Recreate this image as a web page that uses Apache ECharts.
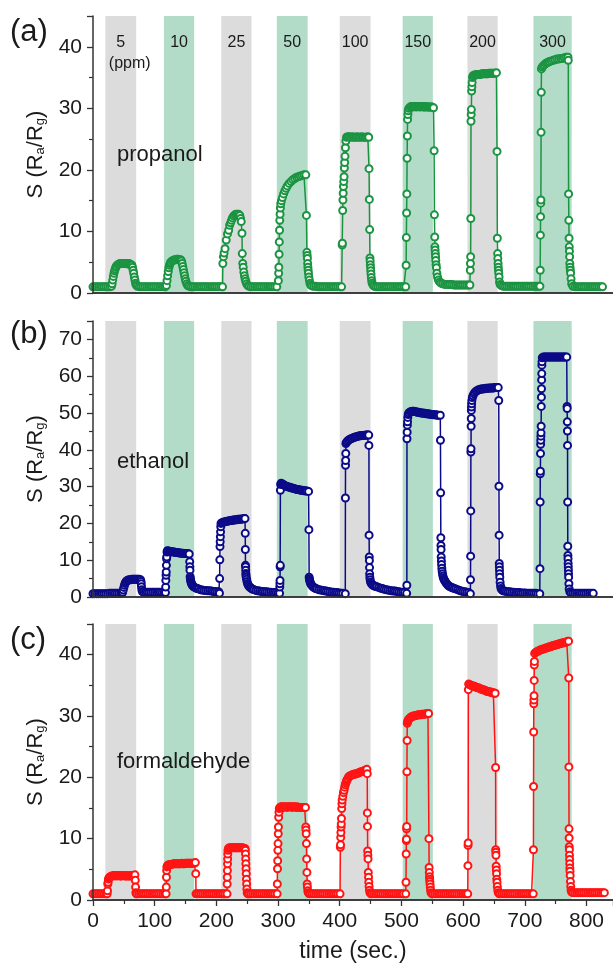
<!DOCTYPE html>
<html><head><meta charset="utf-8">
<script src="https://cdn.jsdelivr.net/npm/echarts@6/dist/echarts.min.js"></script>
<style>html,body{margin:0;padding:0;background:#fff}#c{width:613px;height:965px}</style>
</head><body><div id="c"></div>
<script>
// exposure windows (sec.)
const bands = [[20,70],[115,164],[208,257],[298,348],[400,450],[502,551],[607,656],[714,776]];
const concLabels = ['5','10','25','50','100','150','200','300'];
const gasNames = ['propanol','ethanol','formaldehyde'];
const panelTags = ['(a)','(b)','(c)'];
const yMaxes = [45,75,45];
const xTickLabels = ['0','100','200','300','400','500','600','700','800'];

const propanol = [
[0,1.0],[3,1.0],[6,1.0],[9,1.0],[12,1.0],[15,1.0],[18,1.0],[21,1.0],[24,1.0],[27,1.0],[30,1.1],
[31,1.5],[32,2.1],[33,2.7],[34,3.2],[35,3.6],[36,3.9],[37,4.2],[38,4.4],[40,4.6],[42,4.7],
[44,4.8],[46,4.8],[48,4.8],[50,4.8],[52,4.8],[54,4.8],[56,4.7],[58,4.8],[60,4.7],[62,4.6],
[63,4.5],[64,4.2],[65,3.7],[66,3.2],[67,2.6],[68,2.1],[69,1.6],[70,1.3],[72,1.1],
[75,1.0],[78,1.0],[81,1.0],[84,1.0],[87,1.0],[90,1.0],[93,1.0],[96,1.0],[99,1.0],[102,1.0],[105,1.0],[108,1.0],[111,1.0],[114,1.0],[117,1.0],
[119,1.2],[120,2.0],[121,2.8],[122,3.5],[123,4.1],[124,4.5],[125,4.8],[126,5.0],[128,5.2],[130,5.3],
[132,5.4],[134,5.4],[136,5.5],[138,5.5],[140,5.4],[142,5.4],
[143.5,5.2],[144.5,4.8],[145.5,4.3],[146.5,3.8],[147.5,3.3],[148.5,2.8],[149.5,2.3],[150.5,1.9],[152,1.5],[153.5,1.2],[156,1.1],
[159,1.0],[162,1.0],[165,1.0],[168,1.0],[171,1.0],[174,1.0],[177,1.0],[180,1.0],[183,1.0],[186,1.0],[189,1.0],[192,1.0],[195,1.0],[198,1.0],[201,1.0],[204,1.0],[207,1.0],
[210,1.0],[210.5,4.8],[211.5,5.9],[212.5,6.5],[214,7.2],[216,8.6],[218,9.6],[220,10.2],[221.5,11.0],[223,11.4],[224.5,11.8],[226,12.2],[228,12.5],[230,12.7],[232,12.8],[234,12.8],[236,12.8],[238,12.6],
[239.2,12.1],[240.3,11.6],[241.5,9.7],[242,6.4],[242.8,4.8],[243.5,4.2],[244.5,3.4],[245.5,2.8],[246.5,2.3],[247.5,1.9],[249,1.5],[251,1.2],[253,1.1],
[256,1.0],[259,1.0],[262,1.0],[265,1.0],[268,1.0],[271,1.0],[274,1.0],[277,1.0],[280,1.0],[283,1.0],[286,1.0],[289,1.0],[292,1.0],[295,1.0],[298,1.0],
[300.5,2.0],[301,3.2],[301.3,4.2],[301.7,6.3],[302,8.3],[302.4,10.2],[302.8,11.8],[303.3,12.8],[303.8,13.8],[304.4,14.5],[305.5,15.0],[307,15.5],[309,16.1],[311,16.6],[313,17.0],[315,17.4],[318,17.8],[321,18.1],[324,18.4],[327,18.6],[330,18.8],[333,18.9],[336,19.0],[339,19.1],[342,19.2],[345,19.2],
[346,12.6],[346.8,6.6],[347.2,6.1],[347.6,5.6],[348,4.8],[348.4,4.2],[348.8,3.7],[349.3,3.2],[349.9,2.6],[350.7,2.1],[351.7,1.6],[353,1.3],[355,1.15],
[358,1.1],[361,1.1],[364,1.0],[367,1.0],[370,1.0],[373,1.0],[376,1.0],[379,1.0],[382,1.0],[385,1.0],[388,1.0],[391,1.0],[394,1.0],[397,1.0],[400,1.0],[403,1.0],
[404,7.8],[404.3,8.1],[404.8,13.4],[405.2,15.1],[405.6,16.2],[406,17.3],[406.5,18.1],[407,18.9],[407.5,20.3],[408,21.2],[408.5,22.2],[409.2,23.6],[410,24.7],[411,25.3],
[413,25.4],[415.5,25.4],[418,25.3],[420.5,25.4],[423,25.3],[425.5,25.3],[428,25.4],[430.5,25.3],[433,25.3],[435.5,25.4],[438,25.3],[440.5,25.3],[443,25.3],[445.5,25.4],[447,25.3],
[447.5,20.2],[448,15.2],[448.5,10.3],[449,5.7],[449.3,5.2],[449.6,4.6],[450,4.1],[450.3,3.6],[450.7,3.1],[451.2,2.5],[451.8,2.0],[452.5,1.6],[454,1.3],[456,1.1],
[459,1.0],[462,1.0],[465,1.0],[468,1.0],[471,1.0],[474,1.0],[477,1.0],[480,1.0],[483,1.0],[486,1.0],[489,1.0],[492,1.0],[495,1.0],[498,1.0],[501,1.0],[504,1.0],[507,1.0],
[507.6,4.5],[508,9.0],[508.4,13.0],[508.8,16.1],[509.2,21.9],[509.6,25.5],[510,28.2],[510.5,29.0],[511,29.6],
[512,30.0],[514,30.2],[516,30.3],[518,30.2],[520,30.3],[522,30.3],[524,30.2],[526,30.3],[528,30.3],[530,30.2],[532,30.3],[534,30.3],[536,30.2],[538,30.2],[540,30.3],[542,30.2],[544,30.2],[546,30.2],[548,30.2],[550,30.2],[552,30.1],
[553,23.1],[553.5,12.7],[554,9.1],[554.3,7.5],[554.6,7.0],[555,6.4],[555.3,5.9],[555.7,5.3],[556.2,4.6],[556.8,4.1],[557.5,3.2],[558.5,2.6],[560,2.1],[562,1.8],[564,1.6],[567,1.5],[570,1.4],
[573,1.4],[576,1.4],[579,1.4],[582,1.4],[585,1.3],[588,1.3],[591,1.3],[594,1.3],[597,1.3],[600,1.3],[603,1.3],[606,1.3],[609,1.3],[611,1.3],
[611.6,3.7],[611.9,4.8],[612.2,5.9],[612.5,12.1],[612.8,27.9],[613.1,29.0],[613.4,29.8],[613.8,32.8],[614.2,33.5],[614.6,34.2],[615.2,35.0],
[616,35.3],[618,35.4],[620,35.4],[622,35.5],[624,35.5],[626,35.5],[628,35.5],[630,35.6],[632,35.6],[634,35.6],[636,35.6],[638,35.6],[640,35.6],[642,35.7],[644,35.7],[646,35.7],[648,35.7],[650,35.7],[652,35.7],[654,35.8],
[655,23.0],[655.5,8.9],[656,6.4],[656.3,5.6],[656.7,4.8],[657,4.2],[657.4,3.7],[657.8,3.2],[658.3,2.6],[659,1.8],[660,1.4],[662,1.2],
[665,1.1],[668,1.1],[671,1.1],[674,1.1],[677,1.1],[680,1.1],[683,1.1],[686,1.1],[689,1.1],[692,1.1],[695,1.1],[698,1.1],[701,1.1],[704,1.1],[707,1.1],[710,1.1],[713,1.1],[716,1.1],[719,1.1],[722,1.1],[724.5,1.1],
[725,3.7],[725.3,9.4],[725.6,12.4],[725.9,14.6],[726.1,15.1],[726.4,26.1],[726.7,32.6],[727,36.4],
[728,36.7],[730,36.9],[732,37.1],[734,37.3],[736,37.4],[738,37.5],[740,37.6],[743,37.7],[746,37.8],[749,37.9],[752,38.0],[755,38.0],[758,38.1],[761,38.1],[764,38.2],[767,38.3],[770,38.3],
[770.5,37.8],[771,16.1],[771.4,11.8],[771.8,8.9],[772.1,7.5],[772.4,6.8],[772.7,5.9],[773,4.8],[773.4,4.2],[773.8,3.7],[774.3,3.2],[775,2.3],[776,1.5],[778,1.1],
[781,1.0],[784,1.0],[787,1.0],[790,1.0],[793,1.0],[796,1.0],[799,1.0],[802,1.0],[805,1.0],[808,1.0],[811,1.0],[814,1.0],[817,1.0],[820,1.0],[823,1.0],[826,1.0]
];

const ethanol = [
[0,0.9],[3,0.9],[6,0.9],[9,0.9],[12,0.9],[15,0.9],[18,0.9],[21,0.9],[24,0.9],[27,1.0],[30,1.0],[33,1.0],[36,1.0],[39,1.0],[42,1.0],[45,1.0],
[47,1.0],[48,1.3],[49,1.9],[50,2.6],[51,3.2],[52,3.7],[53,4.0],[54,4.3],[55.5,4.5],[57,4.6],[59,4.7],[61,4.7],[63,4.8],[65,4.8],[67,4.8],[69,4.8],[71,4.8],[73,4.8],[75,4.8],[77,4.7],
[77.8,4.2],[78.2,3.6],[78.6,2.8],[79.2,2.0],[80,1.5],[82,1.3],
[85,1.3],[88,1.3],[91,1.3],[94,1.3],[97,1.3],[100,1.3],[103,1.3],[106,1.3],[109,1.3],[112,1.2],[115,1.2],[117.5,1.2],
[117.8,2.7],[118.1,4.5],[118.4,5.9],[118.7,6.8],[119,8.6],[119.3,10.4],[119.6,10.9],[120,12.2],[120.5,12.6],
[122,12.5],[124,12.4],[126,12.3],[128,12.3],[130,12.2],[132,12.2],[134,12.1],[136,12.1],[138,12.0],[140,12.0],[142,11.9],[144,11.9],[146,11.9],[148,11.8],[150,11.8],[152,11.8],[154,11.8],[156,11.7],
[156.8,9.6],[157,8.2],[157.2,7.3],[157.5,5.5],[157.8,5.0],[158.2,4.6],[158.7,4.2],[159.3,3.8],[160,3.5],[161,3.2],[162,3.0],[163.5,2.8],[165,2.6],[167,2.4],[169,2.3],[171,2.2],[174,2.0],[177,1.9],[180,1.8],[183,1.8],[186,1.7],[189,1.7],[192,1.6],[195,1.5],[198,1.5],[201,1.4],[204,1.4],
[205,1.0],[205.3,5.0],[205.6,10.1],[205.9,13.7],[206.2,15.0],[206.5,16.4],[206.8,17.7],[207.1,19.1],[207.5,20.0],
[209,20.2],[211,20.3],[213,20.4],[215,20.5],[217,20.6],[219,20.6],[221,20.7],[223,20.8],[225,20.8],[227,20.9],[229,20.9],[231,21.0],[233,21.0],[235,21.1],[237,21.1],[239,21.1],[241,21.2],[243,21.2],[245,21.3],[246.4,21.3],
[246.8,17.3],[247,12.9],[247.2,8.6],[247.4,8.2],[247.6,7.3],[247.8,6.4],[248,5.9],[248.4,5.4],[249,4.8],[249.7,4.2],[250.5,3.7],[251.5,3.3],[252.5,3.0],[254,2.7],[255.5,2.5],[257,2.3],[259,2.1],[261,2.0],[264,1.8],[267,1.7],[270,1.6],[273,1.5],[276,1.5],[279,1.4],[282,1.4],[285,1.3],[288,1.3],[291,1.2],[294,1.2],[297,1.2],[300,1.1],[302.5,1.0],
[302.8,2.7],[303,3.6],[303.2,4.5],[303.4,8.2],[303.6,8.6],[303.8,29.0],[304.2,30.6],
[305,30.9],[307,30.7],[309,30.5],[311,30.3],[313,30.1],[315,30.0],[317,29.9],[319,29.8],[321,29.7],[323,29.6],[325,29.5],[327,29.4],[329,29.3],[331,29.2],[333,29.2],[335,29.1],[337,29.0],[339,29.0],[341,28.9],[343,28.9],[345,28.8],[347,28.8],[349.5,28.7],
[350,18.3],[350.4,5.4],[350.8,4.9],[351.3,4.5],[352,4.0],[353,3.6],[354,3.3],[355.5,3.0],[357,2.7],[359,2.5],[361,2.3],[363,2.2],[366,2.0],[369,1.9],[372,1.8],[375,1.7],[378,1.6],[381,1.5],[384,1.4],[387,1.3],[390,1.3],[393,1.2],[396,1.2],[399,1.1],[402,1.0],[405,1.0],[409,0.9],
[409.2,26.9],[409.4,35.8],[409.6,37.1],[409.8,39.0],[410,41.7],
[411,42.0],[412,42.3],[414,42.6],[416,42.8],[418,43.0],[420,43.1],[422,43.3],[424,43.4],[426,43.5],[428,43.6],[430,43.7],[432,43.8],[434,43.8],[436,43.9],[438,43.9],[440,43.9],[442,44.0],[444,44.0],[446,44.0],[447,44.0],
[447.3,41.2],[447.6,16.8],[447.9,10.9],[448.1,9.9],[448.3,8.0],[448.5,6.3],[448.8,5.4],[449.3,4.7],[450,4.1],[451,3.7],[452.5,3.4],[454,3.2],[456,3.0],[458,2.9],[460,2.8],[463,2.6],[466,2.4],[469,2.3],[472,2.1],[475,2.0],[478,1.9],[481,1.8],[484,1.7],[487,1.6],[490,1.6],[493,1.5],[496,1.4],[499,1.3],[502,1.3],[505,1.2],[508.5,1.0],
[508.8,3.2],[509,43.0],[509.3,44.8],[509.6,46.7],[509.9,47.6],[510.3,48.8],[511,49.6],
[512,50.0],[514,50.3],[516,50.4],[518,50.5],[520,50.5],[522,50.4],[524,50.3],[526,50.2],[528,50.2],[530,50.1],[532,50.0],[534,50.0],[536,49.9],[538,49.9],[540,49.8],[542,49.8],[544,49.7],[546,49.7],[548,49.6],[550,49.6],[552,49.5],[554,49.5],[556,49.5],[558,49.4],[560,49.4],[563,49.4],
[563.3,42.6],[563.6,28.3],[563.9,16.1],[564.1,14.0],[564.3,12.9],[564.5,10.9],[564.8,9.8],[565.1,8.8],[565.5,7.8],[566,7.0],[566.6,6.3],[567.3,5.7],[568,5.2],[569,4.8],[570,4.5],[571,4.2],[572.5,3.8],[574,3.5],[575.5,3.2],[577,3.0],[579,2.8],[581,2.6],[583,2.5],[585.5,2.3],[588,2.2],[591,2.0],[594,1.8],[597,1.6],[600,1.5],[603,1.4],[606,1.3],[609,1.2],[611.8,0.9],
[612,4.7],[612.2,11.1],[612.4,23.4],[612.6,39.4],[612.8,40.3],[613,46.4],[613.2,48.5],[613.4,50.7],[613.6,51.6],[613.8,52.5],[614.2,53.4],
[615,54.2],[616,54.7],[617.5,55.2],[619,55.6],[621,55.9],[623,56.1],[625,56.3],[627,56.4],[629,56.5],[631,56.5],[633,56.6],[635,56.6],[637,56.7],[639,56.7],[641,56.7],[643,56.8],[645,56.8],[647,56.8],[649,56.8],[651,56.9],[653,56.9],[655,56.9],[657,56.9],
[657.8,53.4],[658.1,30.1],[658.4,16.8],[658.6,9.1],[658.8,8.2],[659,7.3],[659.2,6.3],[659.5,5.4],[660,4.0],[660.7,3.0],[661.5,2.3],[663,1.9],[665,1.7],[667,1.6],[670,1.5],[673,1.4],[676,1.4],[679,1.3],[682,1.3],[685,1.2],[688,1.2],[691,1.2],[694,1.1],[697,1.1],[700,1.1],[703,1.0],[706,1.0],[709,1.0],[712,1.0],[715,1.0],[718,1.0],[721,0.9],[724.3,0.9],
[724.6,7.7],[724.9,25.8],[725.1,33.5],[725.3,34.2],[725.5,39.0],[725.7,41.5],[725.9,42.6],[726.1,43.7],[726.3,44.6],[726.5,46.4],[726.7,51.8],[726.9,54.3],[727.1,56.6],[727.3,59.0],[727.5,60.7],[727.7,63.0],[727.9,63.9],[728.3,65.0],
[730,65.2],[732,65.2],[734,65.2],[736,65.2],[738,65.2],[740,65.2],[742,65.2],[744,65.2],[746,65.2],[748,65.2],[750,65.2],[752,65.2],[754,65.2],[756,65.2],[758,65.2],[760,65.2],[762,65.2],[764,65.2],[766,65.2],[768,65.2],
[768.5,51.8],[768.7,51.2],[768.9,47.6],[769.1,45.1],[769.3,41.2],[769.5,25.8],[769.7,13.8],[769.9,11.3],[770.1,10.4],[770.3,9.1],[770.5,8.2],[770.7,7.3],[770.9,6.3],[771.1,5.4],[771.5,3.6],[772,2.2],[773,1.4],[775,1.1],
[778,1.0],[781,1.0],[784,1.0],[787,1.0],[790,1.0],[793,1.0],[796,1.0],[799,1.0],[802,1.0],[805,1.0],[808,1.0],[811,1.0]
];

const formaldehyde = [
[0,1.0],[3,1.0],[6,1.0],[9,1.0],[12,1.0],[15,1.0],[18,1.0],[21,1.0],[23,1.0],
[23.5,1.5],[24,2.6],[24.5,2.9],[25,3.4],[26,3.6],[27,3.7],[28,3.8],[30,3.9],[32,3.9],[34,4.0],[36,4.0],[38,3.9],[40,4.0],[42,4.0],[44,3.9],[46,3.9],[48,4.0],[50,4.0],[52,3.9],[54,3.9],[56,4.0],[58,3.9],[60,3.9],[62,4.0],[64,4.0],[66,4.0],[68,4.1],
[68.6,3.2],[69,2.1],[69.5,1.2],[70.5,1.0],
[71,1.0],[74,1.0],[77,1.0],[80,1.0],[83,1.0],[86,1.0],[89,1.0],[92,1.0],[95,1.0],[98,1.0],[101,1.0],[104,1.0],[107,1.0],[110,1.0],[113,1.0],[116,1.0],[118.5,1.0],
[118.8,2.1],[119.1,3.7],[119.4,4.8],[119.8,5.4],[120.5,5.6],[122,5.7],[124,5.8],[126,5.8],[128,5.8],[130,5.9],[132,5.9],[134,5.9],[136,5.9],[138,5.9],[140,5.9],[142,5.9],[144,6.0],[146,5.9],[148,5.9],[150,6.0],[152,6.0],[154,6.0],[156,6.0],[158,6.0],[160,6.0],[162,6.0],[164,6.0],[166,6.1],
[166.6,4.3],[167,1.0],
[169,1.0],[172,1.0],[175,1.0],[178,1.0],[181,1.0],[184,1.0],[187,1.0],[190,1.0],[193,1.0],[196,1.0],[199,1.0],[202,1.0],[205,1.0],[208,1.0],[211,1.0],[214,1.0],[217.3,1.0],
[217.5,2.6],[217.7,3.7],[217.9,4.8],[218.1,5.9],[218.3,6.7],[218.5,7.5],[218.8,8.1],[219.5,8.4],[221,8.5],[223,8.5],[225,8.5],[227,8.5],[229,8.5],[231,8.5],[233,8.5],[235,8.5],[237,8.5],[239,8.5],[241,8.5],[243,8.5],[245,8.4],[246.5,8.4],
[247,8.1],[247.3,7.5],[247.6,6.7],[247.9,5.9],[248.2,5.1],[248.5,4.3],[248.8,3.4],[249.1,2.6],[249.5,1.8],[250,1.2],[251,1.0],
[253,1.0],[256,1.0],[259,1.0],[262,1.0],[265,1.0],[268,1.0],[271,1.0],[274,1.0],[277,1.0],[280,1.0],[283,1.0],[286,1.0],[289,1.0],[292,1.0],[295,1.0],[298.5,1.0],
[298.8,2.6],[299.1,5.1],[299.4,6.4],[299.7,8.1],[300,9.2],[300.3,10.8],[300.6,11.9],[301,13.5],[301.5,14.3],[302,14.9],[303,15.1],[305,15.2],[307,15.2],[309,15.1],[311,15.2],[313,15.2],[315,15.1],[317,15.2],[319,15.2],[321,15.2],[323,15.1],[325,15.2],[327,15.2],[329,15.1],[331,15.2],[333,15.1],[335,15.1],[337,15.1],[339,15.1],[341,15.1],[343,15.1],[344.5,15.1],
[345,11.9],[345.3,11.4],[345.6,10.8],[346,9.2],[346.4,6.7],[346.8,4.5],[347.2,2.6],[347.6,2.1],[348.2,1.5],[349,1.2],[350.5,1.0],
[352,1.0],[355,1.0],[358,1.0],[361,1.0],[364,1.0],[367,1.0],[370,1.0],[373,1.0],[376,1.0],[379,1.0],[382,1.0],[385,1.0],[388,1.0],[391,1.0],[394,1.0],[397,1.0],[400.5,1.0],
[401,8.6],[401.3,9.0],[401.6,10.2],[401.9,11.0],[402.2,11.9],[402.5,12.4],[402.8,13.3],[403.2,14.9],[403.6,15.7],[404,16.3],[405,16.9],[406,17.5],[407,17.9],[408,18.4],[409,18.8],[410,19.1],[411,19.4],[412,19.6],[413,19.8],[414.5,20.1],[416,20.2],[418,20.3],[420,20.4],[422,20.5],[424,20.5],[426,20.6],[428,20.6],[430,20.7],[432,20.8],[434,20.9],[436,20.9],[438,21.0],[440,21.1],[442,21.2],[444,21.3],
[444.6,20.6],[444.8,14.2],[445,12.0],[445.3,8.0],[445.6,7.3],[445.9,6.7],[446.3,4.5],[446.7,3.7],[447.1,2.9],[447.6,2.2],[448.2,1.6],[449,1.2],[450.5,1.0],
[452,1.0],[455,1.0],[458,1.0],[461,1.0],[464,1.0],[467,1.0],[470,1.0],[473,1.0],[476,1.0],[479,1.0],[482,1.0],[485,1.0],[488,1.0],[491,1.0],[494,1.0],[497,1.0],[500,1.0],[503,1.0],[507,1.0],
[507.4,2.9],[507.7,7.5],[508,9.7],[508.2,9.9],[508.4,11.6],[508.6,12.0],[508.9,20.9],[509.2,26.0],[509.5,28.8],[510,29.1],[511,29.3],[512,29.5],[513.5,29.6],[515,29.8],[517,29.9],[519,30.0],[521,30.0],[523,30.1],[525,30.1],[527,30.2],[529,30.2],[531,30.2],[533,30.3],[535,30.3],[537,30.3],[539,30.3],[541,30.4],[543,30.4],[544,30.4],
[544.6,10.0],[544.9,5.3],[545.2,4.5],[545.5,3.8],[545.8,3.4],[546.1,3.0],[546.4,2.6],[546.8,2.1],[547.3,1.6],[548,1.2],[549.5,1.0],
[551,1.0],[554,1.0],[557,1.0],[560,1.0],[563,1.0],[566,1.0],[569,1.0],[572,1.0],[575,1.0],[578,1.0],[581,1.0],[584,1.0],[587,1.0],[590,1.0],[593,1.0],[596,1.0],[599,1.0],[602,1.0],[605,1.0],[607.5,1.0],
[607.8,5.6],[608,8.9],[608.2,9.3],[608.5,34.3],[609,35.2],[611,35.1],[613,35.0],[615,34.9],[617,34.9],[619,34.8],[621,34.7],[623,34.6],[625,34.6],[627,34.5],[629,34.4],[631,34.3],[633,34.3],[635,34.2],[637,34.1],[639,34.0],[641,34.0],[643,33.9],[645,33.9],[647,33.8],[649,33.8],[651,33.7],[652,33.7],
[652.7,21.6],[652.9,8.2],[653.1,7.8],[653.3,7.3],[653.6,5.5],[653.9,4.9],[654.2,4.3],[654.6,3.4],[655,2.9],[655.5,2.2],[656.2,1.6],[657,1.2],[658.5,1.0],
[660,1.0],[663,1.0],[666,1.0],[669,1.0],[672,1.0],[675,1.0],[678,1.0],[681,1.0],[684,1.0],[687,1.0],[690,1.0],[693,1.0],[696,1.0],[699,1.0],[702,1.0],[705,1.0],[708,1.0],[711,1.0],[713.7,1.0],
[714,8.2],[714.2,18.5],[714.4,27.4],[714.6,32.0],[714.8,32.6],[715,33.3],[715.2,35.8],[715.4,38.3],[715.6,38.9],[716,40.2],[718,40.4],[720,40.5],[722,40.6],[724,40.7],[726,40.8],[728,40.9],[730,40.9],[732,41.0],[734,41.1],[736,41.1],[738,41.2],[740,41.3],[742,41.3],[744,41.4],[746,41.5],[748,41.5],[750,41.6],[752,41.6],[754,41.7],[756,41.8],[758,41.8],[760,41.9],[762,41.9],[764,42.0],[766,42.0],[768,42.1],[770,42.2],[771,42.2],
[771.3,36.2],[771.5,21.7],[771.7,11.6],[771.9,10.1],[772.1,8.7],[772.3,8.2],[772.5,7.3],[772.7,6.6],[772.9,5.9],[773.1,5.2],[773.3,4.7],[773.6,4.0],[774,3.0],[774.5,2.2],[775,1.6],[776,1.3],[778,1.2],
[781,1.2],[784,1.2],[787,1.2],[790,1.2],[793,1.2],[796,1.2],[799,1.2],[802,1.2],[805,1.2],[808,1.2],[811,1.2],[814,1.2],[817,1.2],[820,1.2],[823,1.2],[826,1.2],[829,1.2]
];

const seriesData = [propanol, ethanol, formaldehyde];
const lineColors = ['#1b9442', '#0b0b88', '#ff1414'];
const bandColors = ['#dcdcdc', '#b3dcc8'];
const FONT = "Arial, 'Liberation Sans', Helvetica, sans-serif";
const TXT = '#1a1a1a';
const AX = '#333';
const tops = [16, 321, 624];
const hts = [277, 276, 276];

const grids = [], xAxes = [], yAxes = [], series = [], graphics = [];
for (let i = 0; i < 3; i++) {
  grids.push({left: 93, top: tops[i], width: 521, height: hts[i], show: false});
  const last = i === 2;
  xAxes.push({
    gridIndex: i, type: 'value', min: 0, max: 843, interval: 100, position: 'bottom', z: 10,
    axisLine: {show: true, onZero: false, lineStyle: {color: AX, width: 1.5}},
    axisTick: {show: last, inside: false, length: 6, lineStyle: {color: AX, width: 1.3}},
    minorTick: {show: last, splitNumber: 2, length: 4, lineStyle: {color: AX, width: 1.2}},
    axisLabel: {show: last, fontSize: 21, color: TXT, fontFamily: FONT, margin: 11, showMaxLabel: false,
      formatter: v => xTickLabels.includes(String(v)) ? String(v) : ''},
    splitLine: {show: false},
    name: last ? 'time (sec.)' : '', nameLocation: 'middle', nameGap: 40,
    nameTextStyle: {fontSize: 23, color: TXT, fontFamily: FONT}
  });
  xAxes.push({
    gridIndex: i, type: 'value', min: 0, max: 843, position: 'top', z: 10,
    axisLine: {show: true, lineStyle: {color: AX, width: 1.5}},
    axisTick: {show: false}, axisLabel: {show: false}, splitLine: {show: false}
  });
  yAxes.push({
    gridIndex: i, type: 'value', min: 0, max: yMaxes[i], interval: 10, z: 10,
    axisLine: {show: true, lineStyle: {color: AX, width: 1.5}},
    axisTick: {show: true, inside: false, length: 6, lineStyle: {color: AX, width: 1.3}},
    minorTick: {show: true, splitNumber: 2, length: 4, lineStyle: {color: AX, width: 1.2}},
    axisLabel: {fontSize: 21, color: TXT, fontFamily: FONT, margin: 11, showMaxLabel: false},
    splitLine: {show: false},
    name: 'S (R{s|a}/R{s|g})', nameLocation: 'middle', nameGap: 46,
    nameTextStyle: {fontSize: 22, color: TXT, fontFamily: FONT,
      rich: {s: {fontSize: 13, color: TXT, fontFamily: FONT, verticalAlign: 'bottom', padding: [10, 0, 0, 0]}}}
  });
  const areaData = bands.map((b, k) => {
    const start = {xAxis: b[0], itemStyle: {color: bandColors[k % 2]}};
    if (i === 0) {
      start.label = {show: true, position: 'insideTop', distance: 16,
        formatter: k === 0 ? concLabels[k] + '\n{p|(ppm)}' : concLabels[k],
        fontSize: 16, lineHeight: 21, color: TXT, fontFamily: FONT,
        rich: {p: {fontSize: 16, lineHeight: 21, color: TXT, fontFamily: FONT, padding: [0, 0, 0, 18]}}};
    }
    return [start, {xAxis: b[1]}];
  });
  series.push({
    type: 'line', xAxisIndex: i * 2, yAxisIndex: i, data: seriesData[i],
    symbol: 'emptyCircle', symbolSize: 7, showAllSymbol: true,
    lineStyle: {color: lineColors[i], width: 1.5},
    itemStyle: {color: lineColors[i], borderColor: lineColors[i], borderWidth: 1.5},
    emphasis: {disabled: true},
    markArea: {silent: true, label: {show: false}, data: areaData}
  });
  graphics.push({type: 'text', x: 10, y: [32, 334, 640][i], z: 100,
    style: {text: panelTags[i], fontSize: 31, fontFamily: FONT, fill: TXT, verticalAlign: 'middle'}});
  graphics.push({type: 'text', x: 117, y: [155, 462, 762][i], z: 100,
    style: {text: gasNames[i], fontSize: 22, fontFamily: FONT, fill: TXT, verticalAlign: 'middle'}});
}

const chart = echarts.init(document.getElementById('c'), null, {renderer: 'canvas'});
chart.setOption({
  animation: false, backgroundColor: '#fff',
  grid: grids, xAxis: xAxes, yAxis: yAxes, series: series, graphic: graphics
});
</script>
</body></html>
